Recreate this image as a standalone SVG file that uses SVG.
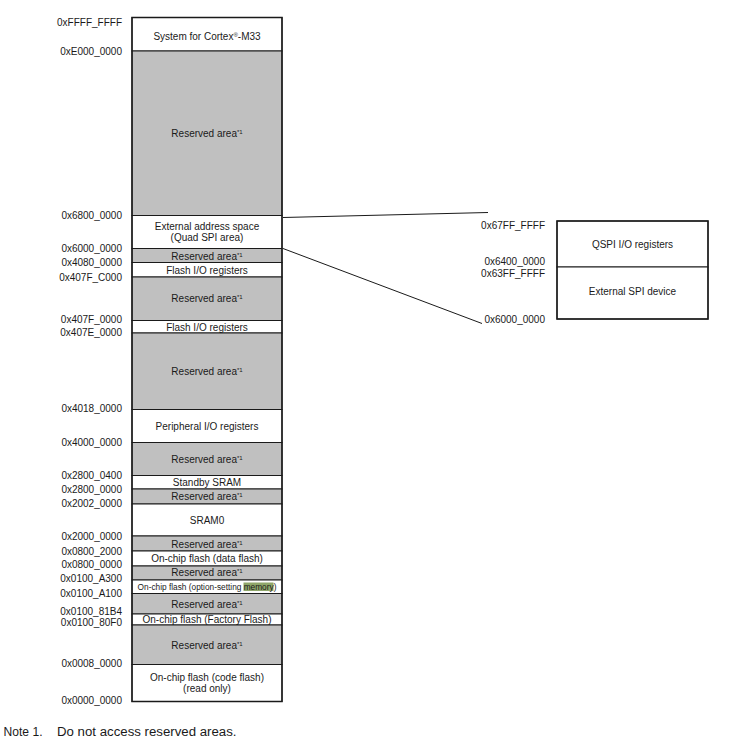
<svg xmlns="http://www.w3.org/2000/svg" width="750" height="742" viewBox="0 0 750 742">
<style>
text{font-family:"Liberation Sans",Arial,sans-serif;fill:#1a1a1a}
.a{font-size:10px;text-anchor:end}
.t{font-size:10px;text-anchor:middle}
.s{font-size:6px}
.n{font-size:12.5px}
.w{fill:#ffffff;stroke:#1a1a1a;stroke-width:1}
.g{fill:#c0c0c0;stroke:#1a1a1a;stroke-width:1}
.c{stroke:#1a1a1a;stroke-width:1;fill:none}
</style>
<rect x="0" y="0" width="750" height="742" fill="#ffffff"/>
<g id="map">
<g id="r-system"><rect class="w" x="132" y="17.5" width="150" height="33.5"/><text class="t" x="207" y="40">System for Cortex<tspan class="s" dy="-3">®</tspan><tspan dy="3">-M33</tspan></text></g>
<g id="r-res1"><rect class="g" x="132" y="51" width="150" height="164.5"/><text class="t" x="207" y="136.5">Reserved area<tspan class="s" dy="-3">*1</tspan></text></g>
<g id="r-ext"><rect class="w" x="132" y="215.5" width="150" height="33"/><text class="t" x="207" y="230">External address space</text><text class="t" x="207" y="241">(Quad SPI area)</text></g>
<g id="r-res2"><rect class="g" x="132" y="248.5" width="150" height="14"/><text class="t" x="207" y="259.5">Reserved area<tspan class="s" dy="-3">*1</tspan></text></g>
<g id="r-flash1"><rect class="w" x="132" y="262.5" width="150" height="14.5"/><text class="t" x="207" y="273.5">Flash I/O registers</text></g>
<g id="r-res3"><rect class="g" x="132" y="277" width="150" height="43.5"/><text class="t" x="207" y="302">Reserved area<tspan class="s" dy="-3">*1</tspan></text></g>
<g id="r-flash2"><rect class="w" x="132" y="320.5" width="150" height="12.5"/><text class="t" x="207" y="330.5">Flash I/O registers</text></g>
<g id="r-res4"><rect class="g" x="132" y="333" width="150" height="76.5"/><text class="t" x="207" y="375">Reserved area<tspan class="s" dy="-3">*1</tspan></text></g>
<g id="r-periph"><rect class="w" x="132" y="409.5" width="150" height="33"/><text class="t" x="207" y="429.5">Peripheral I/O registers</text></g>
<g id="r-res5"><rect class="g" x="132" y="442.5" width="150" height="33"/><text class="t" x="207" y="463">Reserved area<tspan class="s" dy="-3">*1</tspan></text></g>
<g id="r-standby"><rect class="w" x="132" y="475.5" width="150" height="13.5"/><text class="t" x="207" y="486">Standby SRAM</text></g>
<g id="r-res6"><rect class="g" x="132" y="489" width="150" height="15"/><text class="t" x="207" y="500">Reserved area<tspan class="s" dy="-3">*1</tspan></text></g>
<g id="r-sram0"><rect class="w" x="132" y="504" width="150" height="32"/><text class="t" x="207" y="524">SRAM0</text></g>
<g id="r-res7"><rect class="g" x="132" y="536" width="150" height="15"/><text class="t" x="207" y="547.5">Reserved area<tspan class="s" dy="-3">*1</tspan></text></g>
<g id="r-dflash"><rect class="w" x="132" y="551" width="150" height="15"/><text class="t" x="207" y="561.5">On-chip flash (data flash)</text></g>
<g id="r-res8"><rect class="g" x="132" y="566" width="150" height="14"/><text class="t" x="207" y="576">Reserved area<tspan class="s" dy="-3">*1</tspan></text></g>
<g id="r-option"><rect class="w" x="132" y="580" width="150" height="13.5"/><rect x="243.5" y="582.5" width="30" height="8.5" fill="#8fa66a"/><text x="207" y="590" style="font-size:8.3px;text-anchor:middle">On-chip flash (option-setting memory)</text></g>
<g id="r-res9"><rect class="g" x="132" y="593.5" width="150" height="20.5"/><text class="t" x="207" y="607.5">Reserved area<tspan class="s" dy="-3">*1</tspan></text></g>
<g id="r-factory"><rect class="w" x="132" y="614" width="150" height="11"/><text class="t" x="207" y="623">On-chip flash (Factory Flash)</text></g>
<g id="r-res10"><rect class="g" x="132" y="625" width="150" height="39.5"/><text class="t" x="207" y="649">Reserved area<tspan class="s" dy="-3">*1</tspan></text></g>
<g id="r-code"><rect class="w" x="132" y="664.5" width="150" height="37"/><text class="t" x="207" y="681">On-chip flash (code flash)</text><text class="t" x="207" y="691.5">(read only)</text></g>
<rect x="132" y="17.5" width="150" height="684" fill="none" stroke="#1a1a1a" stroke-width="1.5"/>
</g>
<g id="addresses">
<text class="a" x="122" y="26">0xFFFF_FFFF</text>
<text class="a" x="122" y="54.5">0xE000_0000</text>
<text class="a" x="122" y="219">0x6800_0000</text>
<text class="a" x="122" y="252">0x6000_0000</text>
<text class="a" x="122" y="265.5">0x4080_0000</text>
<text class="a" x="122" y="280.5">0x407F_C000</text>
<text class="a" x="122" y="322.5">0x407F_0000</text>
<text class="a" x="122" y="336">0x407E_0000</text>
<text class="a" x="122" y="412">0x4018_0000</text>
<text class="a" x="122" y="445.5">0x4000_0000</text>
<text class="a" x="122" y="479">0x2800_0400</text>
<text class="a" x="122" y="492.5">0x2800_0000</text>
<text class="a" x="122" y="507">0x2002_0000</text>
<text class="a" x="122" y="540">0x2000_0000</text>
<text class="a" x="122" y="554.5">0x0800_2000</text>
<text class="a" x="122" y="568">0x0800_0000</text>
<text class="a" x="122" y="581.5">0x0100_A300</text>
<text class="a" x="122" y="596.5">0x0100_A100</text>
<text class="a" x="122" y="615">0x0100_81B4</text>
<text class="a" x="122" y="626">0x0100_80F0</text>
<text class="a" x="122" y="666.5">0x0008_0000</text>
<text class="a" x="122" y="704">0x0000_0000</text>
</g>
<g id="connectors">
<line class="c" x1="283" y1="217.5" x2="488" y2="212.5"/>
<line class="c" x1="283" y1="248.5" x2="482" y2="323.5"/>
</g>
<g id="qspi">
<g id="q-regs"><rect class="w" x="557" y="221" width="151" height="46"/><text class="t" x="632.5" y="247.5">QSPI I/O registers</text></g>
<g id="q-dev"><rect class="w" x="557" y="267" width="151" height="52"/><text class="t" x="632.5" y="295">External SPI device</text></g>
<rect x="557" y="221" width="151" height="98" fill="none" stroke="#1a1a1a" stroke-width="1.5"/>
<text class="a" x="545" y="229">0x67FF_FFFF</text>
<text class="a" x="545" y="265">0x6400_0000</text>
<text class="a" x="545" y="276.5">0x63FF_FFFF</text>
<text class="a" x="545" y="322.5">0x6000_0000</text>
</g>
<g id="note">
<text class="n" x="3.5" y="735.5" textLength="39" lengthAdjust="spacingAndGlyphs">Note 1.</text>
<text class="n" x="57" y="735.5" textLength="179.5" lengthAdjust="spacingAndGlyphs">Do not access reserved areas.</text>
</g>
</svg>
